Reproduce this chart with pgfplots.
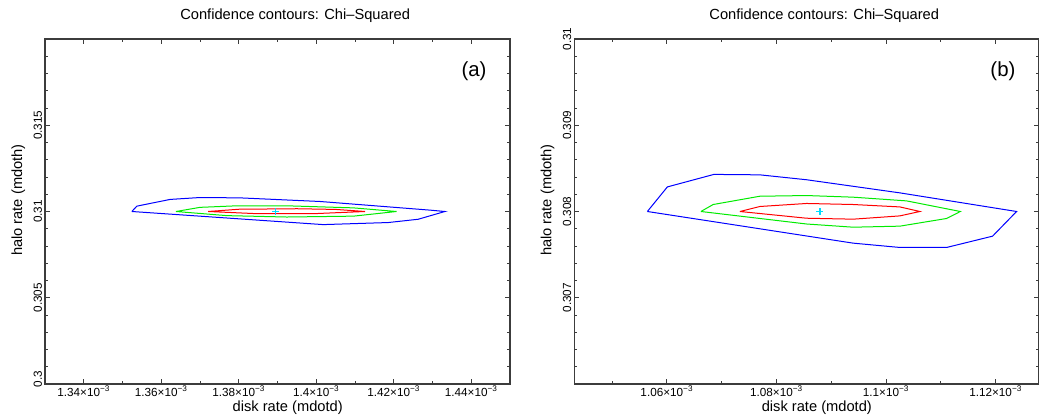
\documentclass[border=0pt]{standalone}
\usepackage{fontspec}
\setmainfont{Liberation Sans}
\usepackage{pgfplots}
\pgfplotsset{compat=1.18}
\definecolor{cblue}{RGB}{0,0,255}
\definecolor{cgreen}{RGB}{0,235,0}
\definecolor{cred}{RGB}{255,0,0}
\definecolor{ccyan}{RGB}{0,220,255}
\definecolor{frame}{RGB}{60,60,60}

\pgfplotsset{
  panel/.style={
    scale only axis, height=258.75pt,
    axis line style={frame, line width=0.8pt},
    tick style={frame, line width=0.6pt},
    major tick length=3.75pt, minor tick length=2.25pt,
    scaled x ticks=false, scaled y ticks=false,
    tick label style={font=\fontsize{8.8}{10}\selectfont},
    xticklabel style={inner sep=0.8pt},
    yticklabel style={rotate=90, anchor=south, inner sep=2pt},
    title={Confidence contours: Chi--Squared},
    every axis title shift=0pt,
    title style={at={(0.538,1.068)}, anchor=center, font=\fontsize{11}{12}\selectfont},
    xlabel={disk rate (mdotd)}, ylabel={halo rate (mdoth)},
    every axis x label/.style={at={(0.522,-0.068)}, anchor=center, font=\fontsize{11}{12}\selectfont},
    every axis y label/.style={at={(-0.0575,0.533)}, rotate=90, anchor=center, font=\fontsize{11}{12}\selectfont},
  },
  cont/.style={line width=0.75pt, no markers},
  best/.style={only marks, mark=+, mark size=2.6pt, ccyan, line width=1pt},
}

\begin{document}
\begin{tikzpicture}
\useasboundingbox (0,0) rectangle (780pt,312.75pt);

% panel (a)
\begin{axis}[panel, at={(33.75pt,24.75pt)}, anchor=south west, width=348.75pt,
  xmin=1.33e-3, xmax=1.45e-3, ymin=0.3, ymax=0.32,
  xtick={1.34e-3,1.36e-3,1.38e-3,1.4e-3,1.42e-3,1.44e-3},
  xticklabels={1.34×10\textsuperscript{−3},1.36×10\textsuperscript{−3},1.38×10\textsuperscript{−3},1.4×10\textsuperscript{−3},1.42×10\textsuperscript{−3},1.44×10\textsuperscript{−3}},
  minor xtick={1.35e-3,1.37e-3,1.39e-3,1.41e-3,1.43e-3},
  ytick={0.3,0.305,0.31,0.315},
  yticklabels={\hspace*{7.5pt}0.3,0.305,0.31,0.315},
  minor ytick={0.301,0.302,0.303,0.304,0.306,0.307,0.308,0.309,
               0.311,0.312,0.313,0.314,0.316,0.317,0.318,0.319},
]
\addplot[cont, cblue] coordinates {
  (1.3524e-3,0.31) (1.3537e-3,0.31031) (1.3623e-3,0.31070) (1.3700e-3,0.31081)
  (1.3803e-3,0.31079) (1.4010e-3,0.31058) (1.4293e-3,0.31008) (1.4332e-3,0.31)
  (1.4263e-3,0.30955) (1.4186e-3,0.30936) (1.4018e-3,0.30924) (1.3524e-3,0.31)};
\addplot[cont, cgreen] coordinates {
  (1.3638e-3,0.31) (1.3700e-3,0.31024) (1.3795e-3,0.31033) (1.3924e-3,0.31033)
  (1.4096e-3,0.31021) (1.4207e-3,0.31) (1.4096e-3,0.30973) (1.3924e-3,0.30968)
  (1.3769e-3,0.30976) (1.3638e-3,0.31)};
\addplot[cont, cred] coordinates {
  (1.3721e-3,0.31) (1.3800e-3,0.31013) (1.3950e-3,0.31016) (1.4050e-3,0.31012)
  (1.4126e-3,0.31) (1.4000e-3,0.30988) (1.3850e-3,0.30987) (1.3721e-3,0.31)};
\addplot[best] coordinates {(1.3895e-3,0.31)};
\node[font=\fontsize{15.3}{18}\selectfont] at (rel axis cs:0.9226,0.907) {(a)};
\end{axis}

% panel (b)
\begin{axis}[panel, at={(430.7pt,24.75pt)}, anchor=south west, width=348.5pt,
  xmin=1.0431e-3, xmax=1.1279e-3, ymin=0.306, ymax=0.31,
  xtick={1.06e-3,1.08e-3,1.1e-3,1.12e-3},
  xticklabels={1.06×10\textsuperscript{−3},1.08×10\textsuperscript{−3},1.1×10\textsuperscript{−3},1.12×10\textsuperscript{−3}},
  minor xtick={1.05e-3,1.07e-3,1.09e-3,1.11e-3},
  ytick={0.307,0.308,0.309,0.31},
  yticklabels={0.307,0.308,0.309,0.31},
  minor ytick={0.3062,0.3064,0.3066,0.3068,0.3072,0.3074,0.3076,0.3078,
               0.3082,0.3084,0.3086,0.3088,0.3092,0.3094,0.3096,0.3098},
]
\addplot[cont, cblue] coordinates {
  (1.05644e-3,0.308) (1.06009e-3,0.308285) (1.06858e-3,0.308430) (1.07697e-3,0.308425)
  (1.08550e-3,0.308368) (1.10252e-3,0.308216) (1.12382e-3,0.308)
  (1.11944e-3,0.307714) (1.11105e-3,0.307583) (1.10252e-3,0.307583)
  (1.09400e-3,0.307633) (1.05644e-3,0.308)};
\addplot[cont, cgreen] coordinates {
  (1.06621e-3,0.308) (1.06845e-3,0.308081) (1.07697e-3,0.308177) (1.08550e-3,0.308185)
  (1.09400e-3,0.308166) (1.10375e-3,0.308123) (1.11356e-3,0.308)
  (1.11105e-3,0.307919) (1.10252e-3,0.307830) (1.09400e-3,0.307818)
  (1.08550e-3,0.307855) (1.06621e-3,0.308)};
\addplot[cont, cred] coordinates {
  (1.07332e-3,0.308) (1.07697e-3,0.308058) (1.08550e-3,0.308093) (1.09400e-3,0.308081)
  (1.10252e-3,0.308053) (1.10617e-3,0.308) (1.10252e-3,0.307949)
  (1.09400e-3,0.307911) (1.08550e-3,0.307922) (1.07332e-3,0.308)};
\addplot[best] coordinates {(1.08792e-3,0.308)};
\node[font=\fontsize{15.3}{18}\selectfont] at (rel axis cs:0.9225,0.907) {(b)};
\end{axis}
\end{tikzpicture}
\end{document}
